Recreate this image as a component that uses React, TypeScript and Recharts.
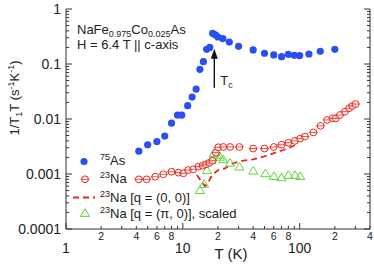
import { ReferenceLine, Scatter, ScatterChart, XAxis, YAxis } from "recharts";

// 75As, filled blue circles
const asT = [4.2, 5, 6, 7, 8, 9, 9.8, 11, 12, 13, 14, 15, 16, 17, 18, 19, 20, 22, 25, 30, 40, 50, 60, 70, 80, 90, 100, 120, 150, 200];
const asV = [0.0026, 0.0034, 0.0039, 0.0049, 0.0084, 0.0118, 0.0118, 0.0175, 0.025, 0.035, 0.08, 0.11, 0.185, 0.2, 0.36, 0.34, 0.31, 0.29, 0.25, 0.21, 0.18, 0.157, 0.146, 0.136, 0.15, 0.144, 0.142, 0.152, 0.17, 0.185];

// 23Na, open red circles
const naT = [4.2, 4.9, 5.8, 6.8, 8, 9.2, 10.1, 11.1, 12.3, 13.6, 14.8, 15.8, 16.9, 18, 19.2, 20.1, 22.2, 25.4, 30.5, 40, 50, 60, 70, 80, 91, 101, 111, 131, 151, 172, 192, 204, 221, 244, 265, 282, 301];
const naV = [0.0008, 0.0008, 0.00089, 0.00099, 0.0011, 0.00106, 0.00103, 0.00118, 0.00122, 0.00136, 0.00142, 0.0015, 0.0016, 0.00174, 0.00244, 0.00306, 0.0031, 0.0031, 0.0031, 0.0029, 0.0029, 0.0031, 0.0034, 0.0037, 0.004, 0.0044, 0.0048, 0.0057, 0.0075, 0.0096, 0.0103, 0.0103, 0.0118, 0.0136, 0.0157, 0.0172, 0.0187];

// 23Na [q = (0, 0)], red dashed line
const q0T = [13.2, 14.3, 15.5, 16.4, 17.8, 20.1, 22.9, 27, 32.9, 40.1, 48.8, 59.5, 72.6, 88.3, 97.6];
const q0V = [0.00096, 0.00075, 0.0006, 0.00069, 0.00096, 0.00118, 0.00127, 0.00157, 0.00175, 0.00185, 0.00206, 0.00238, 0.00273, 0.00323, 0.00351];

// 23Na [q = (pi, 0)], scaled, open green triangles
const qpiT = [14, 15.2, 16.1, 17.5, 18.4, 19.5, 20.8, 22.2, 25.4, 30.5, 40.1, 50.9, 60.2, 70, 80, 91.3, 101];
const qpiV = [0.00051, 0.00066, 0.00118, 0.0018, 0.00238, 0.00222, 0.00206, 0.00185, 0.0016, 0.00136, 0.00115, 0.00103, 0.00092, 0.00087, 0.00096, 0.00096, 0.00092];

// Tc arrow
const tcT = 18.6;
const arrowV = [0.037, 0.19];

const xTicks = [1, 2, 3, 4, 5, 6, 7, 8, 9, 10, 20, 30, 40, 50, 60, 70, 80, 90, 100, 200, 300, 400];
const xMajor = [1, 10, 100];
const xMinorLabelled = [2, 4, 6, 8, 20, 40, 60, 80, 200, 400];
const yTicks = [
  0.0001, 0.0002, 0.0003, 0.0004, 0.0005, 0.0006, 0.0007, 0.0008, 0.0009,
  0.001, 0.002, 0.003, 0.004, 0.005, 0.006, 0.007, 0.008, 0.009,
  0.01, 0.02, 0.03, 0.04, 0.05, 0.06, 0.07, 0.08, 0.09,
  0.1, 0.2, 0.3, 0.4, 0.5, 0.6, 0.7, 0.8, 0.9, 1,
];
const yMajor = [0.0001, 0.001, 0.01, 0.1, 1];
const yMajorLabels = ["0.0001", "0.001", "0.01", "0.1", "1"];

const toPoints = (ts: number[], vs: number[]) => ts.map((t, i) => ({ t, v: vs[i] }));
const asData = toPoints(asT, asV);
const naData = toPoints(naT, naV);
const q0Data = toPoints(q0T, q0V);
const qpiData = toPoints(qpiT, qpiV);

const font = "'Liberation Sans', Arial, Helvetica, sans-serif";
const ink = "#222";
const frame = "#333";
const blue = "#2a4ff0";
const red = "#e8271e";
const green = "#62d43c";

function BottomTick({ x, y, payload }: any) {
  const v = payload.value;
  const major = xMajor.includes(v);
  const len = major ? 6 : 3;
  return (
    <g>
      <line x1={x} y1={y} x2={x} y2={y - len} stroke={frame} />
      {major && (
        <text x={x} y={y + 24} textAnchor="middle" fontSize={14} fontFamily={font} fill={ink}>
          {v}
        </text>
      )}
      {xMinorLabelled.includes(v) && (
        <text x={x} y={y + 11} textAnchor="middle" fontSize={10.5} fontFamily={font} fill={ink}>
          {String(v)[0]}
        </text>
      )}
    </g>
  );
}

function TopTick({ x, y, payload }: any) {
  const len = xMajor.includes(payload.value) ? 6 : 3;
  return <line x1={x} y1={y} x2={x} y2={y + len} stroke={frame} />;
}

function LeftTick({ x, y, payload }: any) {
  const idx = yMajor.indexOf(payload.value);
  const len = idx >= 0 ? 6 : 3;
  return (
    <g>
      <line x1={x} y1={y} x2={x + len} y2={y} stroke={frame} />
      {idx >= 0 && (
        <text x={x - 5} y={y + 5} textAnchor="end" fontSize={14} fontFamily={font} fill={ink}>
          {yMajorLabels[idx]}
        </text>
      )}
    </g>
  );
}

function RightTick({ x, y, payload }: any) {
  const len = yMajor.includes(payload.value) ? 6 : 3;
  return <line x1={x} y1={y} x2={x - len} y2={y} stroke={frame} />;
}

function AsDot({ cx, cy }: any) {
  return <circle cx={cx} cy={cy} r={3.6} fill={blue} />;
}

function NaDot({ cx, cy }: any) {
  return (
    <g>
      <circle cx={cx} cy={cy} r={3.4} fill="#fff" fillOpacity={0.6} stroke={red} strokeWidth={1} />
      <line x1={cx - 4.5} y1={cy} x2={cx + 4.5} y2={cy} stroke={red} strokeWidth={0.8} />
    </g>
  );
}

function Triangle({ cx, cy }: any) {
  return (
    <polygon
      points={`${cx},${cy - 4.2} ${cx - 4.6},${cy + 3.4} ${cx + 4.6},${cy + 3.4}`}
      fill="none"
      stroke={green}
      strokeWidth={1}
    />
  );
}

function Arrow({ x1, y1, y2 }: any) {
  const top = Math.min(y1, y2);
  const bottom = Math.max(y1, y2);
  return (
    <g>
      <line x1={x1} y1={bottom} x2={x1} y2={top + 8} stroke="#111" strokeWidth={1.4} />
      <polygon points={`${x1},${top} ${x1 - 3.5},${top + 10} ${x1 + 3.5},${top + 10}`} fill="#111" />
      <text x={x1 + 6} y={bottom - 3} fontSize={13} fontFamily={font} fill={ink}>
        T<tspan dy={3} fontSize={9}>c</tspan>
      </text>
    </g>
  );
}

const noDot = () => <g />;

function Overlay() {
  return (
    <svg width={374} height={264} style={{ position: "absolute", left: 0, top: 0, pointerEvents: "none" }}>
      <g fontFamily={font} fill={ink}>
        <text x={77} y={34} fontSize={13}>
          NaFe<tspan dy={2.5} fontSize={9}>0.975</tspan>
          <tspan dy={-2.5}>Co</tspan>
          <tspan dy={2.5} fontSize={9}>0.025</tspan>
          <tspan dy={-2.5}>As</tspan>
        </text>
        <text x={77} y={49} fontSize={13}>H = 6.4 T || c-axis</text>

        <text x={231} y={259} fontSize={15} textAnchor="middle">T (K)</text>
        <text transform="translate(19,98) rotate(-90)" fontSize={13} textAnchor="middle">
          1/T<tspan dy={3} fontSize={9}>1</tspan>
          <tspan dy={-3}>T (s</tspan>
          <tspan dy={-5} fontSize={9}>-1</tspan>
          <tspan dy={5}>K</tspan>
          <tspan dy={-5} fontSize={9}>-1</tspan>
          <tspan dy={5}>)</tspan>
        </text>

        <circle cx={84} cy={161.5} r={3.6} fill={blue} />
        <text x={100} y={165} fontSize={13}>
          <tspan dy={-5} fontSize={9}>75</tspan>
          <tspan dy={5}>As</tspan>
        </text>

        <NaDot cx={85} cy={179.3} />
        <text x={100} y={183} fontSize={13}>
          <tspan dy={-5} fontSize={9}>23</tspan>
          <tspan dy={5}>Na</tspan>
        </text>

        <line x1={73} y1={197.5} x2={95} y2={197.5} stroke={red} strokeWidth={1.8} strokeDasharray="6 4" />
        <text x={100} y={201.5} fontSize={13}>
          <tspan dy={-5} fontSize={9}>23</tspan>
          <tspan dy={5}>Na [q = (0, 0)]</tspan>
        </text>

        <Triangle cx={85} cy={213} />
        <text x={100} y={218} fontSize={13}>
          <tspan dy={-5} fontSize={9}>23</tspan>
          <tspan dy={5}>Na [q = (π, 0)], scaled</tspan>
        </text>
      </g>
    </svg>
  );
}

export default function App() {
  return (
    <div style={{ position: "absolute", left: 0, top: 0, width: 374, height: 264, background: "#fff" }}>
      <ScatterChart width={374} height={264} margin={{ top: 9, right: 0, bottom: 0, left: 0 }}>
        <XAxis
          dataKey="t"
          type="number"
          scale="log"
          domain={[1, 400]}
          allowDataOverflow
          ticks={xTicks}
          interval={0}
          height={35}
          tickSize={0}
          tickMargin={0}
          tick={<BottomTick />}
          axisLine={{ stroke: frame }}
          tickLine={false}
        />
        <XAxis
          xAxisId="top"
          orientation="top"
          dataKey="t"
          type="number"
          scale="log"
          domain={[1, 400]}
          allowDataOverflow
          ticks={xTicks}
          interval={0}
          height={0}
          tickSize={0}
          tickMargin={0}
          tick={<TopTick />}
          axisLine={{ stroke: frame }}
          tickLine={false}
        />
        <YAxis
          dataKey="v"
          type="number"
          scale="log"
          domain={[0.0001, 1]}
          allowDataOverflow
          ticks={yTicks}
          interval={0}
          width={66}
          tickSize={0}
          tickMargin={0}
          tick={<LeftTick />}
          axisLine={{ stroke: frame }}
          tickLine={false}
        />
        <YAxis
          yAxisId="right"
          orientation="right"
          dataKey="v"
          type="number"
          scale="log"
          domain={[0.0001, 1]}
          allowDataOverflow
          ticks={yTicks}
          interval={0}
          width={4}
          tickSize={0}
          tickMargin={0}
          tick={<RightTick />}
          axisLine={{ stroke: frame }}
          tickLine={false}
        />
        <Scatter data={q0Data} shape={noDot} line={{ stroke: red, strokeWidth: 1.8, strokeDasharray: "6 4" }} isAnimationActive={false} />
        <Scatter data={qpiData} shape={<Triangle />} isAnimationActive={false} />
        <Scatter data={naData} shape={<NaDot />} isAnimationActive={false} />
        <Scatter data={asData} shape={<AsDot />} isAnimationActive={false} />
        <ReferenceLine
          segment={[
            { x: tcT, y: arrowV[0] },
            { x: tcT, y: arrowV[1] },
          ]}
          shape={<Arrow />}
        />
      </ScatterChart>
      <Overlay />
    </div>
  );
}
